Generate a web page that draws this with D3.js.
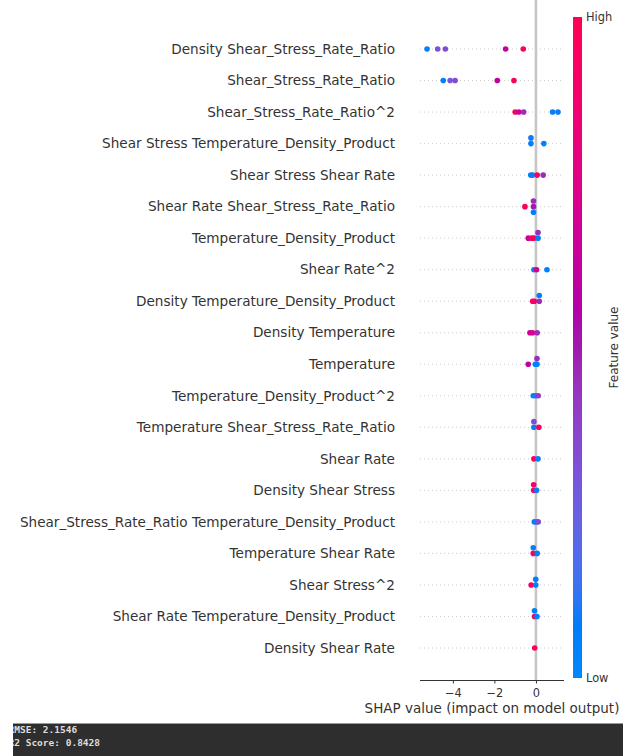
<!DOCTYPE html>
<html>
<head>
<meta charset="utf-8">
<script src="https://cdn.jsdelivr.net/npm/d3@7"></script>
<style>
  html, body { margin: 0; padding: 0; background: #fff; }
  svg { display: block; }
</style>
</head>
<body>
<svg id="chart" width="623" height="756"></svg>
<script>
// Feature names, most important first
const features = [
  "Density Shear_Stress_Rate_Ratio",
  "Shear_Stress_Rate_Ratio",
  "Shear_Stress_Rate_Ratio^2",
  "Shear Stress Temperature_Density_Product",
  "Shear Stress Shear Rate",
  "Shear Rate Shear_Stress_Rate_Ratio",
  "Temperature_Density_Product",
  "Shear Rate^2",
  "Density Temperature_Density_Product",
  "Density Temperature",
  "Temperature",
  "Temperature_Density_Product^2",
  "Temperature Shear_Stress_Rate_Ratio",
  "Shear Rate",
  "Density Shear Stress",
  "Shear_Stress_Rate_Ratio Temperature_Density_Product",
  "Temperature Shear Rate",
  "Shear Stress^2",
  "Shear Rate Temperature_Density_Product",
  "Density Shear Rate"
];

// SHAP values per feature (one entry per sample)
const shapValues = [
  [-5.24, -4.73, -4.36, -1.46, -0.61],
  [-4.46, -4.13, -3.89, -1.86, -1.06],
  [-1.00, -0.82, -0.59, 0.80, 1.06],
  [-0.24, -0.24, 0.38],
  [-0.25, -0.16, 0.06, 0.35],
  [-0.53, -0.12, -0.12, -0.12],
  [-0.37, -0.21, -0.10, 0.10, 0.10],
  [-0.10, 0.03, 0.53],
  [-0.16, -0.08, 0.16, 0.16],
  [-0.29, -0.16, 0.06],
  [-0.37, -0.03, 0.05, 0.05],
  [-0.13, -0.01, 0.11],
  [-0.10, -0.10, 0.14],
  [-0.10, 0.10],
  [-0.11, -0.11, 0.03],
  [-0.08, 0.03, 0.11],
  [-0.13, -0.13, 0.06],
  [-0.23, -0.01, -0.01],
  [-0.07, -0.07, 0.05],
  [-0.06]
];

// Normalised feature values (0 = low, 1 = high) for the same samples
const featureValues = [
  [0.05, 0.30, 0.35, 0.62, 0.95],
  [0.05, 0.30, 0.35, 0.62, 0.95],
  [0.95, 0.65, 0.45, 0.05, 0.10],
  [0.05, 0.10, 0.05],
  [0.05, 0.10, 0.95, 0.45],
  [0.95, 0.50, 0.45, 0.05],
  [0.65, 0.90, 0.95, 0.05, 0.45],
  [0.05, 0.70, 0.05],
  [0.95, 0.90, 0.45, 0.05],
  [0.65, 0.75, 0.45],
  [0.62, 0.05, 0.05, 0.45],
  [0.05, 0.10, 0.40],
  [0.05, 0.35, 0.95],
  [0.95, 0.05],
  [0.95, 0.90, 0.05],
  [0.05, 0.10, 0.35],
  [0.95, 0.05, 0.05],
  [0.95, 0.05, 0.05],
  [0.95, 0.05, 0.05],
  [0.95]
];

const xTicks = [-4, -2, 0];
const colorLabels = ["Low", "High"];
const xLabel = "SHAP value (impact on model output)";
const barLabel = "Feature value";
const consoleLines = ["RMSE: 2.1546", "R2 Score: 0.8428"];

const svg = d3.select("#chart");
const font = "'DejaVu Sans', sans-serif";
const axisColor = "#333333";

// Layout
const plot = { left: 420, right: 564, top: 0, bottom: 680 };
const x = d3.scaleLinear().domain([-5.58, 1.35]).range([plot.left, plot.right]);
const y = d3.scalePoint().domain(features).range([49, 648]);
const rowStep = y.step();

// Blue -> red colormap in LCh: chroma ramp, hue sweeping
// through magenta, lightness dipping in the middle
function cmap(t) {
  t = Math.max(0, Math.min(1, t));
  const L = t < 0.5 ? 54 + (40 - 54) * (t / 0.5) : 40 + (54 - 40) * ((t - 0.5) / 0.5);
  const C = 70 + (90 - 70) * t;
  const hRad = 4.6588 + ((0.35470565 + 2 * Math.PI) - 4.6588) * t;
  return d3.hcl(hRad * 180 / Math.PI, C, L).formatHex();
}

// Dotted row guides
svg.append("g").selectAll("line").data(features).join("line")
  .attr("x1", plot.left).attr("x2", plot.right)
  .attr("y1", d => y(d)).attr("y2", d => y(d))
  .attr("stroke", "#cccccc").attr("stroke-width", 1)
  .attr("stroke-dasharray", "1,3");

// Zero line
svg.append("line")
  .attr("x1", x(0)).attr("x2", x(0))
  .attr("y1", plot.top).attr("y2", plot.bottom)
  .attr("stroke", "#c6c6c6").attr("stroke-width", 2.6);

// Beeswarm layout: points sharing a quantised bin are stacked around the row
function swarmOffsets(vals) {
  const nbins = 100;
  const lo = d3.min(vals), hi = d3.max(vals);
  const quant = vals.map(v => Math.round(nbins * (v - lo) / (hi - lo + 1e-8)));
  const order = d3.range(vals.length).sort((a, b) => quant[a] - quant[b] || a - b);
  const ys = new Array(vals.length).fill(0);
  let layer = 0, last = -1;
  for (const i of order) {
    if (quant[i] !== last) layer = 0;
    ys[i] = Math.ceil(layer / 2) * ((layer % 2) * 2 - 1);
    layer++;
    last = quant[i];
  }
  const m = d3.max(ys.map(v => v + 1));
  const scale = 0.9 * (0.4 / m);
  return ys.map(v => v * scale);
}

const points = [];
features.forEach((f, r) => {
  const offs = swarmOffsets(shapValues[r]);
  shapValues[r].forEach((s, i) => {
    points.push({ f, s, v: featureValues[r][i], off: offs[i] });
  });
});

svg.append("g").selectAll("circle").data(points).join("circle")
  .attr("cx", d => x(d.s))
  .attr("cy", d => y(d.f) - d.off * rowStep)
  .attr("r", 2.8)
  .attr("fill", d => cmap(d.v));

// Feature labels
svg.append("g").selectAll("text").data(features).join("text")
  .attr("x", 395).attr("y", d => y(d)).attr("dy", "0.35em")
  .attr("text-anchor", "end")
  .attr("font-family", font).attr("font-size", 13.6)
  .attr("fill", axisColor)
  .text(d => d);

// X axis
const xAxis = svg.append("g")
  .attr("transform", `translate(0,${plot.bottom})`)
  .call(d3.axisBottom(x).tickValues(xTicks).tickSize(3.5).tickSizeOuter(0)
    .tickFormat(d => d3.format("")(d).replace("-", "\u2212")));
xAxis.select(".domain").attr("stroke", axisColor).attr("stroke-width", 1)
  .attr("d", `M${plot.left},0.5H${plot.right}`);
xAxis.selectAll(".tick line").attr("stroke", axisColor);
xAxis.selectAll(".tick text")
  .attr("font-family", font).attr("font-size", 11.4).attr("fill", axisColor)
  .attr("dy", "0.9em");

svg.append("text")
  .attr("x", (plot.left + plot.right) / 2).attr("y", 713)
  .attr("text-anchor", "middle")
  .attr("font-family", font).attr("font-size", 13.5).attr("fill", axisColor)
  .text(xLabel);

// Colour bar
const bar = { x: 573, w: 9, top: 17, bottom: 678 };
const defs = svg.append("defs");
const grad = defs.append("linearGradient").attr("id", "cbar")
  .attr("x1", 0).attr("y1", 1).attr("x2", 0).attr("y2", 0);
d3.range(0, 1.0001, 0.02).forEach(t => {
  grad.append("stop").attr("offset", t).attr("stop-color", cmap(t));
});
svg.append("rect")
  .attr("x", bar.x).attr("y", bar.top)
  .attr("width", bar.w).attr("height", bar.bottom - bar.top)
  .attr("fill", "url(#cbar)");

const cScale = d3.scaleLinear().domain([0, 1]).range([bar.bottom, bar.top]);
svg.append("g").selectAll("text").data(colorLabels).join("text")
  .attr("x", bar.x + bar.w + 4).attr("y", (d, i) => cScale(i)).attr("dy", "0.35em")
  .attr("font-family", font).attr("font-size", 11.4).attr("fill", axisColor)
  .text(d => d);

svg.append("text")
  .attr("transform", `translate(618,${(bar.top + bar.bottom) / 2}) rotate(-90)`)
  .attr("text-anchor", "middle")
  .attr("font-family", font).attr("font-size", 12).attr("fill", axisColor)
  .text(barLabel);

// Console output strip
const strip = { x: 13, y: 723, w: 610, h: 33 };
defs.append("clipPath").attr("id", "stripClip")
  .append("rect").attr("x", strip.x).attr("y", strip.y)
  .attr("width", strip.w).attr("height", strip.h);
svg.append("rect")
  .attr("x", strip.x).attr("y", strip.y).attr("width", strip.w).attr("height", strip.h)
  .attr("fill", "#2e2e2e");
svg.append("line")
  .attr("x1", strip.x).attr("x2", strip.x + strip.w)
  .attr("y1", strip.y + 0.5).attr("y2", strip.y + 0.5)
  .attr("stroke", "#9a9a9a").attr("stroke-width", 1);
svg.append("g").attr("clip-path", "url(#stripClip)")
  .selectAll("text").data(consoleLines).join("text")
  .attr("x", 8.5).attr("y", (d, i) => 733 + i * 12.5)
  .attr("font-family", "'DejaVu Sans Mono', monospace")
  .attr("font-weight", "bold").attr("font-size", 9.5)
  .attr("fill", "#dcdcdc")
  .text(d => d);
</script>
</body>
</html>
